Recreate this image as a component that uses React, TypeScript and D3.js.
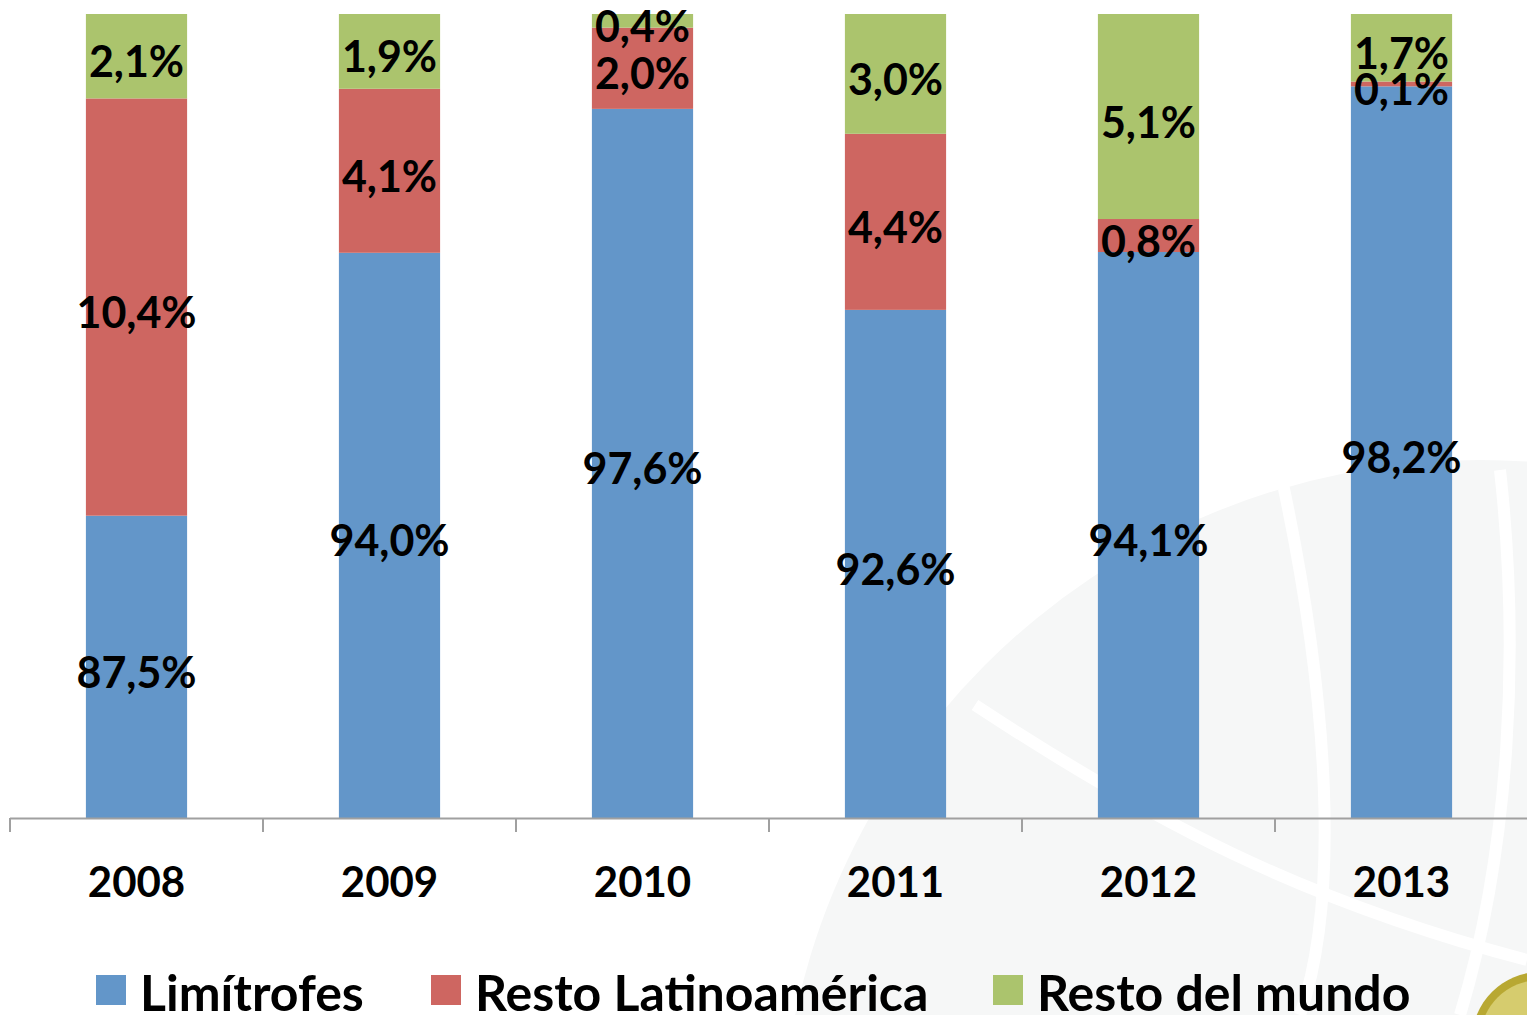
import { useRef, useEffect } from "react";
import * as d3 from "d3";

// years on the x axis
const years = ["2008", "2009", "2010", "2011", "2012", "2013"];
const seriesNames = ["Limítrofes", "Resto Latinoamérica", "Resto del mundo"];

// label values printed inside the bars (%)
const limitrofesLabel = [87.5, 94.0, 97.6, 92.6, 94.1, 98.2];
const restoLatamLabel = [10.4, 4.1, 2.0, 4.4, 0.8, 0.1];
const restoMundoLabel = [2.1, 1.9, 0.4, 3.0, 5.1, 1.7];

// share of the bar height each segment takes (%)
const limitrofesShare = [37.6, 70.3, 88.2, 63.2, 70.4, 91.0];
const restoLatamShare = [51.9, 20.4, 10.1, 21.9, 4.1, 0.6];
const restoMundoShare = [10.5, 9.3, 1.7, 14.9, 25.5, 8.4];

const colors = ["#6396C9", "#CE6661", "#ABC46D"];

const W = 1527;
const H = 1015;

export default function App() {
  const svgRef = useRef<SVGSVGElement | null>(null);

  useEffect(() => {
    const svg = d3.select(svgRef.current);
    svg.selectAll("*").remove();

    const font = "Lato, 'Open Sans', sans-serif";

    // faint watermark in the background
    const wm = svg.append("g");
    wm.append("circle").attr("cx", 1480).attr("cy", 1160).attr("r", 700).attr("fill", "#f6f7f7");
    const white = [
      "M975,705 C1150,820 1300,900 1527,960",
      "M1280,470 C1330,700 1340,900 1300,1015",
      "M1500,470 C1520,650 1510,850 1460,1015",
    ];
    wm.selectAll("path.w")
      .data(white)
      .enter()
      .append("path")
      .attr("d", (d) => d)
      .attr("fill", "none")
      .attr("stroke", "#fff")
      .attr("stroke-width", 12);

    const x = d3.scaleBand<string>().domain(years).range([10, 1528]).paddingInner(0.6).paddingOuter(0.3);
    const y = d3.scaleLinear().domain([0, 100]).range([818, 14]);

    const rows = years.map((yr, i) => ({
      year: yr,
      a: limitrofesShare[i],
      b: restoLatamShare[i],
      c: restoMundoShare[i],
    }));
    const labels = [limitrofesLabel, restoLatamLabel, restoMundoLabel];
    const stack = d3.stack<any>().keys(["a", "b", "c"]);
    const series = stack(rows);

    series.forEach((s, si) => {
      const g = svg.append("g");
      g.selectAll("rect")
        .data(s)
        .enter()
        .append("rect")
        .attr("x", (d: any) => x(d.data.year)!)
        .attr("width", x.bandwidth())
        .attr("y", (d) => y(d[1]))
        .attr("height", (d) => y(d[0]) - y(d[1]))
        .attr("fill", colors[si]);
    });

    // value labels
    series.forEach((s, si) => {
      svg.append("g")
        .selectAll("text")
        .data(s)
        .enter()
        .append("text")
        .attr("x", (d: any) => x(d.data.year)! + x.bandwidth() / 2)
        .attr("y", (d) => (y(d[0]) + y(d[1])) / 2 + 21)
        .attr("text-anchor", "middle")
        .attr("font-family", font)
        .attr("font-weight", "bold")
        .attr("font-size", 43)
        .attr("fill", "#000")
        .text((d, i) => labels[si][i].toFixed(1).replace(".", ",") + "%");
    });

    // x axis
    const step = x.step();
    const x0 = 10;
    svg.append("line")
      .attr("x1", x0).attr("x2", W)
      .attr("y1", 818.5).attr("y2", 818.5)
      .attr("stroke", "#a0a0a0").attr("stroke-width", 2);
    svg.append("g")
      .selectAll("line")
      .data(d3.range(years.length + 1))
      .enter()
      .append("line")
      .attr("x1", (i) => x0 + i * step)
      .attr("x2", (i) => x0 + i * step)
      .attr("y1", 818)
      .attr("y2", 832)
      .attr("stroke", "#a0a0a0")
      .attr("stroke-width", 2);
    svg.append("g")
      .selectAll("text")
      .data(years)
      .enter()
      .append("text")
      .attr("x", (d) => x(d)! + x.bandwidth() / 2)
      .attr("y", 897)
      .attr("text-anchor", "middle")
      .attr("font-family", font)
      .attr("font-weight", "bold")
      .attr("font-size", 42)
      .attr("fill", "#000")
      .text((d) => d);

    // legend
    const legendX = [96, 431, 993];
    const leg = svg.append("g")
      .selectAll("g")
      .data(seriesNames)
      .enter()
      .append("g")
      .attr("transform", (d, i) => `translate(${legendX[i]},975)`);
    leg.append("rect").attr("width", 30).attr("height", 30).attr("fill", (d, i) => colors[i]);
    leg.append("text")
      .attr("x", 44)
      .attr("y", 36)
      .attr("font-family", font)
      .attr("font-weight", "bold")
      .attr("font-size", 50)
      .attr("fill", "#000")
      .text((d) => d);

    // logo fragment in the corner
    svg.append("circle").attr("cx", 1540).attr("cy", 1040).attr("r", 68).attr("fill", "#b8a832");
    svg.append("circle").attr("cx", 1540).attr("cy", 1040).attr("r", 60).attr("fill", "#d6cc6e");
  }, []);

  return (
    <div style={{ position: "fixed", left: 0, top: 0, width: W, height: H, background: "#fff" }}>
      <svg ref={svgRef} width={W} height={H}></svg>
    </div>
  );
}
